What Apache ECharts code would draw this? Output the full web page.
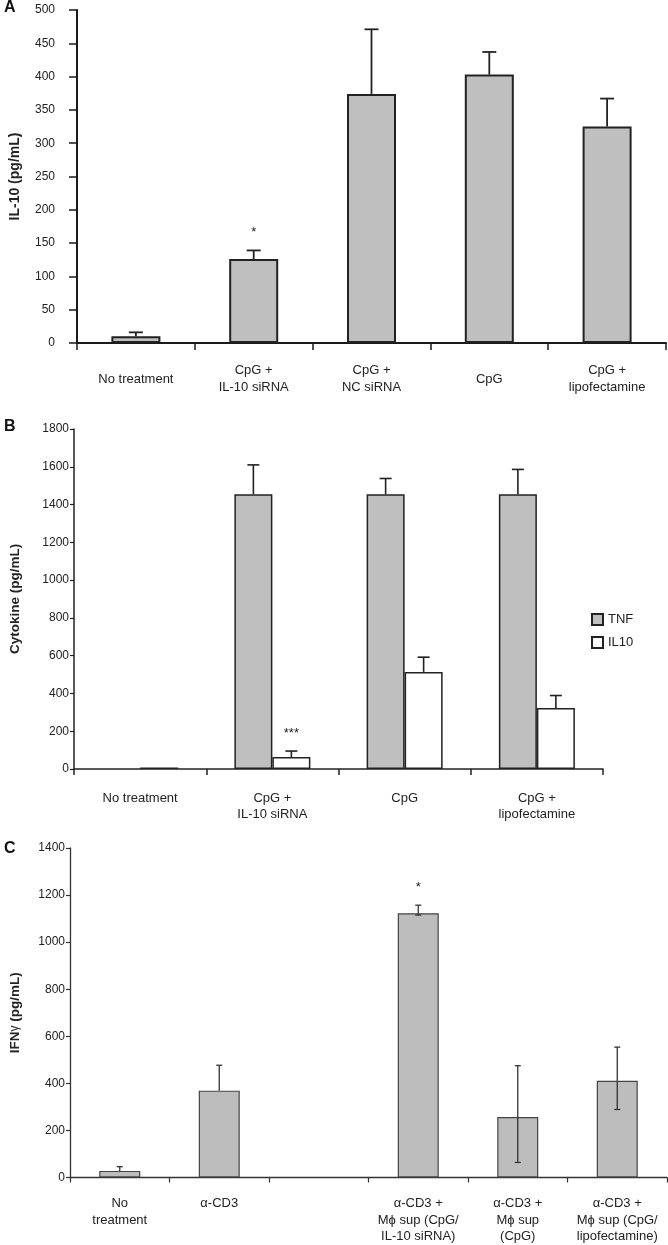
<!DOCTYPE html>
<html>
<head>
<meta charset="utf-8">
<script src="https://cdn.jsdelivr.net/npm/echarts@6/dist/echarts.min.js"></script>
<style>
html,body{margin:0;padding:0;background:#fff;}
#chart{width:668px;height:1245px;}
</style>
</head>
<body>
<div id="chart"></div>
<script>
// ---------- Panel A ----------
const catsA = ['No treatment', 'CpG +\nIL-10 siRNA', 'CpG +\nNC siRNA', 'CpG', 'CpG +\nlipofectamine'];
const valsA = [10, 126, 374, 403, 325];
const errA = [6, 13, 97, 34, 42];
const sigA = ['', '*', '', '', ''];
const ticksA = {min: 0, max: 500, interval: 50};

// ---------- Panel B ----------
const catsB = ['No treatment', 'CpG +\nIL-10 siRNA', 'CpG', 'CpG +\nlipofectamine'];
const tnfB = [null, 1455, 1455, 1455];
const tnfErrB = [0, 155, 83, 131];
const il10B = [8, 64, 514, 323];
const il10ErrB = [0, 31, 78, 66];
const sigTnfB = ['', '', '', ''];
const sigIl10B = ['', '***', '', ''];
const ticksB = {min: 0, max: 1800, interval: 200};

// ---------- Panel C ----------
const catsC = ['No\ntreatment', 'α-CD3', '', 'α-CD3 +\nMϕ sup (CpG/\nIL-10 siRNA)', 'α-CD3 +\nMϕ sup\n(CpG)', 'α-CD3 +\nMϕ sup (CpG/\nlipofectamine)'];
const valsC = [28, 369, null, 1123, 257, 411];
const errUpC = [18, 108, null, 34, 218, 143];
const errDownC = [0, 0, null, 8, 193, 122];
const sigC = ['', '', '', '*', '', ''];
const ticksC = {min: 0, max: 1400, interval: 200};

const FONT = 'Liberation Sans, Arial, Helvetica, sans-serif';
const TXT = '#222';
const plain = v => String(v);

function makeErr(ai, vals, up, down, sig, offset, cap, color, lw) {
  const data = [];
  vals.forEach((v, i) => { if (v != null) data.push([i, v]); });
  return {
    type: 'custom', xAxisIndex: ai, yAxisIndex: ai, z: 5, silent: true,
    data: data,
    renderItem: function (params, api) {
      const i = api.value(0);
      const v = vals[i];
      const base = api.coord([i, v]);
      const x = base[0] + offset;
      const u = up[i] || 0, d = down[i] || 0;
      const top = api.coord([i, v + u])[1];
      const bot = api.coord([i, v - d])[1];
      const st = {stroke: color, lineWidth: lw};
      const ch = [];
      if (u > 0) {
        ch.push({type: 'line', shape: {x1: x, y1: base[1], x2: x, y2: top}, style: st});
        ch.push({type: 'line', shape: {x1: x - cap / 2, y1: top, x2: x + cap / 2, y2: top}, style: st});
      }
      if (d > 0) {
        ch.push({type: 'line', shape: {x1: x, y1: base[1], x2: x, y2: bot}, style: st});
        ch.push({type: 'line', shape: {x1: x - cap / 2, y1: bot, x2: x + cap / 2, y2: bot}, style: st});
      }
      if (sig[i]) {
        ch.push({type: 'text', x: x, y: top - 18, style: {text: sig[i], fill: TXT, font: '13px ' + FONT, align: 'center', verticalAlign: 'middle'}});
      }
      return {type: 'group', children: ch};
    }
  };
}

function yAx(gi, t, name, nameGap, opts) {
  return Object.assign({
    type: 'value', gridIndex: gi, min: t.min, max: t.max, interval: t.interval,
    splitLine: {show: false},
    axisLine: {show: true, lineStyle: {color: '#1a1a1a', width: 2}},
    axisTick: {show: true, length: 8, lineStyle: {color: '#1a1a1a', width: 1.5}},
    axisLabel: {color: TXT, fontSize: 12, fontFamily: FONT, margin: 22, formatter: plain},
    name: name, nameLocation: 'middle', nameGap: nameGap,
    nameTextStyle: {color: TXT, fontSize: 14, fontWeight: 'bold', fontFamily: FONT}
  }, opts || {});
}

function xAx(gi, cats, opts) {
  return Object.assign({
    type: 'category', gridIndex: gi, data: cats, boundaryGap: true,
    axisLine: {show: true, lineStyle: {color: '#1a1a1a', width: 2}},
    axisTick: {show: true, interval: 0, alignWithLabel: false, length: 7, lineStyle: {color: '#1a1a1a', width: 1.5}},
    axisLabel: {interval: 0, color: TXT, fontSize: 13, fontFamily: FONT, lineHeight: 17}
  }, opts || {});
}

const chart = echarts.init(document.getElementById('chart'), null, {renderer: 'canvas'});

const option = {
  backgroundColor: '#fff',
  animation: false,
  textStyle: {fontFamily: FONT},
  grid: [
    {left: 75, top: 10, width: 591, height: 333},
    {left: 72, top: 429, width: 531, height: 340},
    {left: 67, top: 848, width: 600, height: 333}
  ],
  graphic: [
    {type: 'text', left: 4, top: 0, style: {text: 'A', font: 'bold 16px ' + FONT, fill: '#111'}},
    {type: 'text', left: 4, top: 419, style: {text: 'B', font: 'bold 16px ' + FONT, fill: '#111'}},
    {type: 'text', left: 4, top: 841, style: {text: 'C', font: 'bold 16px ' + FONT, fill: '#111'}}
  ],
  legend: {
    data: ['TNF', 'IL10'], orient: 'vertical', left: 586, top: 608,
    itemWidth: 11, itemHeight: 11, itemGap: 10, icon: 'rect',
    textStyle: {color: TXT, fontSize: 13, fontFamily: FONT}
  },
  xAxis: [
    xAx(0, catsA, {axisLabel: {interval: 0, color: TXT, fontSize: 13, fontFamily: FONT, lineHeight: 17, verticalAlign: 'middle', margin: 36}}),
    xAx(1, catsB, {
      axisLine: {show: true, lineStyle: {color: '#222', width: 1.5}},
      axisTick: {show: true, interval: 0, alignWithLabel: false, length: 6, lineStyle: {color: '#222', width: 1.5}},
      axisLabel: {interval: 0, color: TXT, fontSize: 13, fontFamily: FONT, lineHeight: 16, verticalAlign: 'top', margin: 21}
    }),
    xAx(2, catsC, {
      axisLine: {show: true, lineStyle: {color: '#333', width: 1.3}},
      axisTick: {show: true, interval: 0, alignWithLabel: false, length: 5, lineStyle: {color: '#333', width: 1.2}},
      axisLabel: {interval: 0, color: TXT, fontSize: 13, fontFamily: FONT, lineHeight: 16.5, verticalAlign: 'top', margin: 18}
    })
  ],
  yAxis: [
    yAx(0, ticksA, 'IL-10 (pg/mL)', 55),
    yAx(1, ticksB, 'Cytokine (pg/mL)', 52, {
      axisLine: {show: true, lineStyle: {color: '#222', width: 1.5}},
      axisTick: {show: true, length: 4, lineStyle: {color: '#222', width: 1.2}},
      axisLabel: {color: TXT, fontSize: 12, fontFamily: FONT, margin: 5, padding: [0, 0, 8, 0], formatter: plain},
      nameTextStyle: {color: TXT, fontSize: 13.5, fontWeight: 'bold', fontFamily: FONT}
    }),
    yAx(2, ticksC, '{b|IFN}{g|γ}{b| (pg/mL)}', 48, {
      axisLine: {show: true, lineStyle: {color: '#333', width: 1.3}},
      axisTick: {show: true, length: 4, lineStyle: {color: '#333', width: 1.2}},
      axisLabel: {color: TXT, fontSize: 12, fontFamily: FONT, margin: 5, padding: [0, 0, 6, 0], formatter: plain},
      nameTextStyle: {color: TXT, fontFamily: FONT, rich: {
        b: {fontSize: 13.5, fontWeight: 'bold', fontFamily: FONT, color: TXT},
        g: {fontSize: 12, fontFamily: FONT, color: TXT}
      }}
    })
  ],
  series: [
    {type: 'bar', name: 'IL-10', xAxisIndex: 0, yAxisIndex: 0, data: valsA, barWidth: 49,
      itemStyle: {color: '#bfbfbf', borderColor: '#222', borderWidth: 2}},
    makeErr(0, valsA, errA, valsA.map(() => 0), sigA, 0, 14, '#222', 1.8),

    {type: 'bar', name: 'TNF', xAxisIndex: 1, yAxisIndex: 1, data: tnfB, barWidth: 38, barGap: '0%',
      itemStyle: {color: '#bfbfbf', borderColor: '#222', borderWidth: 1.5}},
    {type: 'bar', name: 'IL10', xAxisIndex: 1, yAxisIndex: 1, data: il10B, barWidth: 38, barGap: '0%',
      itemStyle: {color: '#ffffff', borderColor: '#222', borderWidth: 1.5}},
    makeErr(1, tnfB, tnfErrB, tnfB.map(() => 0), sigTnfB, -19, 12, '#222', 1.6),
    makeErr(1, il10B, il10ErrB, il10B.map(() => 0), sigIl10B, 19, 12, '#222', 1.6),

    {type: 'bar', name: 'IFNg', xAxisIndex: 2, yAxisIndex: 2, data: valsC, barWidth: 41,
      itemStyle: {color: '#bdbdbd', borderColor: '#444', borderWidth: 1.2}},
    makeErr(2, valsC, errUpC, errDownC, sigC, 0, 6, '#333', 1.3)
  ]
};
chart.setOption(option);
</script>
</body>
</html>
